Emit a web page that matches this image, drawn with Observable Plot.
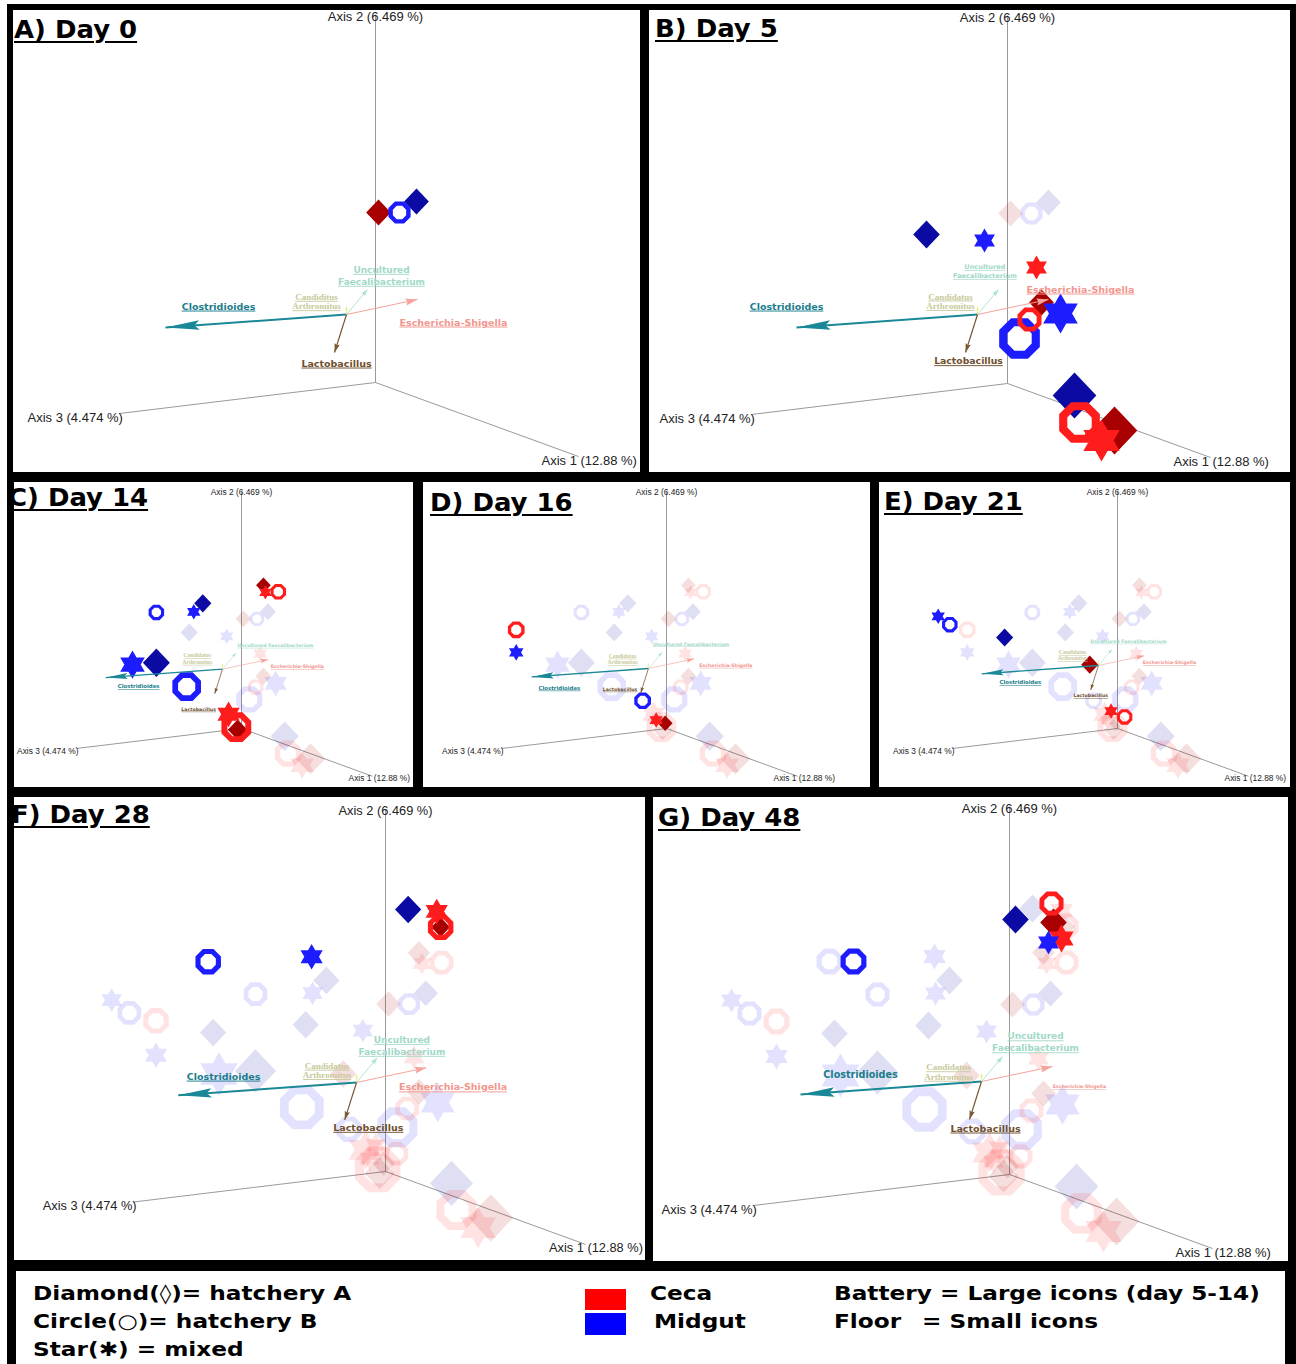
<!DOCTYPE html>
<html>
<head>
<meta charset="utf-8">
<script src="https://cdn.jsdelivr.net/npm/d3@7"></script>
<script src="https://cdn.jsdelivr.net/npm/@observablehq/plot@0.6"></script>
<style>
  html, body { margin: 0; padding: 0; background: #fff; }
  #fig { position: relative; width: 1296px; height: 1364px; overflow: hidden; background: #fff; }
  .frame { position: absolute; left: 7px; top: 4px; width: 1289px; height: 1360px; background: #000; }
  .panel { position: absolute; background: #fff; overflow: hidden; }
  .panel svg { position: absolute; left: 0; top: 0; }
  .title { position: absolute; font-family: "DejaVu Sans", Verdana, sans-serif; font-weight: bold; font-size: 24px;
           line-height: 1; white-space: nowrap; color: #000; text-decoration: underline;
           text-decoration-thickness: 2px; text-underline-offset: 3px; transform: scaleX(1.08); transform-origin: left top; }
  .legend { position: absolute; left: 16px; top: 1271px; width: 1269px; height: 93px; background: #fff; overflow: hidden; }
  .lg { position: absolute; font-family: "DejaVu Sans", Verdana, sans-serif; font-weight: bold; font-size: 19.5px;
        line-height: 1; white-space: nowrap; color: #000; transform: scaleX(1.19); transform-origin: left top; }
  .sw { position: absolute; }
  text.underlined { text-decoration: underline; }
</style>
</head>
<body>
<div id="fig"><div class="frame"></div></div>
<script>
// ---- Sampling days and panel titles ----
const days = [0, 5, 14, 16, 21, 28, 48];
const panelTitles = ["A) Day 0", "B) Day 5", "C) Day 14", "D) Day 16", "E) Day 21", "F) Day 28", "G) Day 48"];

// ---- Samples: PCoA positions projected on the view plane (u right, v up), marker radius ----
const sampleDay = [
  0, 0, 0,
  5, 5, 5, 5, 5, 5, 5, 5, 5, 5, 5,
  14, 14, 14, 14, 14, 14, 14, 14, 14, 14, 14, 14,
  16, 16, 16, 16, 16,
  21, 21, 21, 21, 21, 21,
  28, 28, 28, 28, 28, 28,
  48, 48, 48, 48, 48, 48
];
const sampleTissue = [
  "Ceca", "Midgut", "Midgut",
  "Midgut", "Midgut", "Ceca", "Ceca", "Ceca", "Midgut", "Midgut", "Midgut", "Ceca", "Ceca", "Ceca",
  "Ceca", "Ceca", "Ceca", "Midgut", "Midgut", "Midgut", "Midgut", "Midgut", "Midgut", "Ceca", "Ceca", "Ceca",
  "Ceca", "Midgut", "Midgut", "Ceca", "Ceca",
  "Midgut", "Midgut", "Midgut", "Ceca", "Ceca", "Ceca",
  "Midgut", "Ceca", "Ceca", "Ceca", "Midgut", "Midgut",
  "Ceca", "Ceca", "Midgut", "Midgut", "Ceca", "Midgut"
];
const sampleSource = [
  "hatchery A", "hatchery B", "hatchery A",
  "hatchery A", "mixed", "mixed", "hatchery A", "hatchery B", "mixed", "hatchery B", "hatchery A", "hatchery B", "hatchery A", "mixed",
  "hatchery A", "mixed", "hatchery B", "hatchery B", "mixed", "hatchery A", "mixed", "hatchery A", "hatchery B", "mixed", "hatchery B", "hatchery A",
  "hatchery B", "mixed", "hatchery B", "mixed", "hatchery A",
  "mixed", "hatchery B", "hatchery A", "hatchery A", "mixed", "hatchery B",
  "hatchery A", "mixed", "hatchery A", "hatchery B", "hatchery B", "mixed",
  "hatchery B", "hatchery A", "hatchery A", "mixed", "mixed", "hatchery B"
];
const sampleU = [
  3, 24, 41,
  -81, -23, 29, 34, 22, 53, 12, 67, 72, 107, 94,
  34, 37, 57, -132, -74, -60, -169, -132, -85, -20, -8, -6,
  -233, -233, -37, -16, -2,
  -278, -260, -175, -43, -10, 11,
  23, 52, 56, 56, -180, -75,
  42, 44, 6, 39, 52, -156
];
const sampleV = [
  170, 170, 181,
  149, 143, 116, 81, 64, 70, 45, -12, -39, -47, -57,
  222, 211, 212, 180, 181, 194, 99, 102, 65, 22, 2, -2,
  153, 118, 43, 13, 8,
  174, 161, 141, 99, 27, 18,
  266, 264, 248, 248, 213, 218,
  271, 252, 255, 232, 236, 213
];
const sampleR = [
  13, 12, 13,
  14, 12, 12, 13, 13, 20, 22, 23, 22, 24, 21,
  12, 11, 13, 13, 12, 14, 22, 22, 24, 20, 25, 16,
  14, 13, 14, 12, 12,
  12, 13, 14, 14, 12, 13,
  14, 13, 10, 14, 14, 13,
  13, 14, 14, 12, 14, 14
];

// ---- 3D axes (end points on the view plane) ----
const axisNames = ["Axis 1 (12.88 %)", "Axis 2 (6.469 %)", "Axis 3 (4.474 %)"];
const axisEndU = [203, 0, -256];
const axisEndV = [-74, 368, -31];

// ---- Biplot taxa: loading vectors on the view plane ----
const taxa = ["Clostridioides", "Escherichia-Shigella", "Uncultured Faecalibacterium", "Candidatus Arthromitus", "Lactobacillus"];
const taxonU = [-181, 71, 21, 0, -12];
const taxonV = [-13, 15, 25, 8, -38];

// ---- Styling ----
const tissueColor = { Ceca: "#ff1c1c", Midgut: "#1c1cff" };
const tissueDark = { Ceca: "#a80000", Midgut: "#0b0ba4" };
const arrowColor = ["#1a8896", "#f6a39b", "#aee3d6", "#eeee8a", "#7b5733"];
const labelColor = ["#1b7d8c", "#f2968e", "#9fd9c8", "#c9c99a", "#6f4f2d"];
const arrowWidth = [2, 1, 1, 1, 1.2];
const headLength = [34, 12, 7, 4, 9];
const headRatio = [0.14, 0.3, 0.35, 0.4, 0.3];
const axisTitleAt = [[166, -78, "start"], [0, 366, "middle"], [-348, -35, "start"]];

// label placement per panel: [u, v, font size, line height, underlined], relative to the biplot origin
const labelLayouts = {
  A: [[-128, 8, 9.5], [107, -8, 9.5], [35, 39.5, 9, 1.33], [-30, 13, 9, 1.05], [-10, -49, 9.5]],
  B: [[-191, 8, 9.5], [103, 25, 9.5], [7.4, 43.7, 6.6, 1.4], [-27, 13.3, 9, 1.05], [-9, -46.7, 9.3]],
  C: [[-130, -27, 5.4], [116, 4, 4.7], [82, 37, 4.7], [-39, 16.5, 5.6, 1.15], [-37, -62, 4.7]],
  D: [[-138, -30, 5.4], [120, 5, 4.7], [66, 38, 4.7], [-40, 15, 5.6, 1.15], [-44, -32, 4.7]],
  E: [[-121, -26, 5.4], [110, 4, 4.7], [46.5, 37.7, 4.7], [-40, 16, 5.6, 1.15], [-12, -47, 4.7]],
  F: [[-135, 6, 9.5], [98, -5, 9.5], [46, 38, 9, 1.33], [-30, 12.3, 9, 1.05], [12, -46, 9.5]],
  G: [[-121, 7, 9.6, 1, false], [98, -5, 4.7], [54, 40, 9, 1.33], [-33, 9.5, 9, 1.05], [4, -47, 9.5]]
};
const stackedNames = ["Clostridioides", "Escherichia-Shigella", "Uncultured\nFaecalibacterium", "Candidatus\nArthromitus", "Lactobacillus"];
const compactNames = ["Clostridioides", "Escherichia-Shigella", "Uncultured Faecalibacterium", "Candidatus\nArthromitus", "Lactobacillus"];

// panel boxes on the page, 3D origin inside the box, zoom factor, biplot origin
const panels = [
  { key: "A", left: 13, top: 10, w: 627, h: 462, ox: 362, oy: 372, k: 1, anchor: [-29, 68], titleAt: [1, 7.7], names: stackedNames, rename: { 3: "Candiditus\nArthromitus" } },
  { key: "B", left: 649, top: 10, w: 641, h: 462, ox: 358, oy: 373, k: 1, anchor: [-30, 69], titleAt: [6, 6.7], names: stackedNames },
  { key: "C", left: 14, top: 482, w: 399, h: 305, ox: 227, oy: 246, k: 0.645, anchor: [-29.5, 92], titleAt: [-6, 3.7], names: compactNames },
  { key: "D", left: 423, top: 482, w: 447, h: 305, ox: 243, oy: 246, k: 0.645, anchor: [-28, 93], titleAt: [7, 8.7], names: compactNames },
  { key: "E", left: 879, top: 482, w: 411, h: 305, ox: 238, oy: 246, k: 0.645, anchor: [-29.5, 97.7], titleAt: [5, 7.7], names: compactNames },
  { key: "F", left: 14, top: 797, w: 631, h: 463, ox: 371, oy: 374, k: 0.985, anchor: [-29.4, 90.4], titleAt: [-3, 5.7], names: stackedNames },
  { key: "G", left: 653, top: 797, w: 635, h: 464, ox: 356, oy: 377, k: 1, anchor: [-28, 93], titleAt: [5, 8.7], names: stackedNames }
];

// ---- Marker shapes ----
const diamondSym = { draw(ctx, size) {
  const r = Math.sqrt(size / Math.PI);
  ctx.moveTo(0, -r); ctx.lineTo(r * 0.95, 0); ctx.lineTo(0, r); ctx.lineTo(-r * 0.95, 0); ctx.closePath();
}};
const ringSym = { draw(ctx, size) {
  const r = Math.sqrt(size / Math.PI), ri = r * 0.6;
  for (let i = 0; i < 8; i++) {
    const a = (i + 0.5) * Math.PI / 4;
    i ? ctx.lineTo(r * Math.cos(a), r * Math.sin(a)) : ctx.moveTo(r * Math.cos(a), r * Math.sin(a));
  }
  ctx.closePath();
  for (let i = 8; i > 0; i--) {
    const a = (i - 0.5) * Math.PI / 4;
    i === 8 ? ctx.moveTo(ri * Math.cos(a), ri * Math.sin(a)) : ctx.lineTo(ri * Math.cos(a), ri * Math.sin(a));
  }
  ctx.closePath();
}};
const starSym = { draw(ctx, size) {
  const r = Math.sqrt(size / Math.PI), c = 0.866 * r, s = 0.5 * r;
  ctx.moveTo(0, -r); ctx.lineTo(c, s); ctx.lineTo(-c, s); ctx.closePath();
  ctx.moveTo(0, r); ctx.lineTo(-c, -s); ctx.lineTo(c, -s); ctx.closePath();
}};
const arrowHead = (ratio) => ({ draw(ctx, size) {
  const l = Math.sqrt(size / Math.PI), w = l * ratio;
  ctx.moveTo(0, 0); ctx.lineTo(w, l); ctx.lineTo(0, l * 0.85); ctx.lineTo(-w, l); ctx.closePath();
}});
const symbolOf = { "hatchery A": diamondSym, "hatchery B": ringSym, "mixed": starSym };
const sourceOrder = ["hatchery A", "hatchery B", "mixed"];

const samples = sampleDay.map((day, i) => ({
  day, tissue: sampleTissue[i], source: sampleSource[i], u: sampleU[i], v: sampleV[i], r: sampleR[i]
}));
const axes = axisNames.map((name, i) => ({ name, u: axisEndU[i], v: axisEndV[i] }));
const fillOf = d => d.source === "hatchery A" ? tissueDark[d.tissue] : tissueColor[d.tissue];

function panelPlot(p, day) {
  const k = p.k;
  const [au, av] = p.anchor;
  const layout = labelLayouts[p.key];
  const marks = [];

  // 3D axes and their titles
  marks.push(Plot.link(axes, { x1: () => 0, y1: () => 0, x2: "u", y2: "v", stroke: "#9a9a9a", strokeWidth: 1 }));
  axes.forEach((a, i) => {
    const [tu, tv, anchor] = axisTitleAt[i];
    marks.push(Plot.text([a], { x: () => tu, y: () => tv, text: "name", textAnchor: anchor,
      fontSize: 13 * k, fontFamily: "Liberation Sans, Arial, sans-serif", fill: "#222" }));
  });

  // earlier days faded, current day solid
  const layers = [
    { data: samples.filter(d => d.day < day), opacity: 0.13 },
    { data: samples.filter(d => d.day === day), opacity: 1 }
  ];
  for (const layer of layers) {
    for (const src of sourceOrder) {
      marks.push(Plot.dot(layer.data.filter(d => d.source === src), {
        x: "u", y: "v", r: "r", symbol: symbolOf[src], fill: fillOf, fillOpacity: layer.opacity, stroke: "none"
      }));
    }
  }

  // biplot arrows
  taxa.forEach((t, i) => {
    const tipU = au + taxonU[i], tipV = av + taxonV[i];
    marks.push(Plot.link([t], { x1: () => au, y1: () => av, x2: () => tipU, y2: () => tipV,
      stroke: arrowColor[i], strokeWidth: arrowWidth[i] * k }));
    marks.push(Plot.dot([t], { x: () => tipU, y: () => tipV, r: headLength[i] * k, symbol: arrowHead(headRatio[i]),
      rotate: Math.atan2(taxonU[i], taxonV[i]) * 180 / Math.PI, fill: arrowColor[i], stroke: "none" }));
  });

  // biplot labels
  taxa.forEach((t, i) => {
    const [lu, lv, fs, lh, ul] = layout[i];
    const name = (p.rename && p.rename[i]) || p.names[i];
    marks.push(Plot.text([name], {
      x: () => au + lu, y: () => av + lv, text: d => d, fontSize: fs, lineHeight: lh || 1,
      fontFamily: i === 3 ? "Liberation Serif, serif" : "DejaVu Sans, Verdana, sans-serif", fontWeight: "bold",
      fill: labelColor[i], textAnchor: "middle", lineAnchor: "middle",
      ariaLabel: () => (ul === false ? "taxon plain" : "taxon underlined")
    }));
  });

  const svg = Plot.plot({
    width: p.w, height: p.h, margin: 0, inset: 0,
    x: { domain: [-p.ox / k, (p.w - p.ox) / k], range: [0, p.w], axis: null },
    y: { domain: [-(p.h - p.oy) / k, p.oy / k], range: [p.h, 0], axis: null },
    r: { type: "linear", domain: [0, 100], range: [0, 100 * k] },
    color: { type: "identity" },
    style: { background: "transparent", overflow: "visible" },
    marks
  });
  // underline the taxon names
  svg.querySelectorAll('[aria-label="taxon underlined"]').forEach(el => {
    const targets = el.tagName.toLowerCase() === "text" ? [el] : Array.from(el.querySelectorAll("text"));
    targets.forEach(t => { t.classList.add("underlined"); t.setAttribute("text-decoration", "underline"); });
  });
  return svg;
}

const fig = document.getElementById("fig");
panels.forEach((p, i) => {
  const div = document.createElement("div");
  div.className = "panel";
  Object.assign(div.style, { left: p.left + "px", top: p.top + "px", width: p.w + "px", height: p.h + "px" });
  div.appendChild(panelPlot(p, days[i]));
  const title = document.createElement("div");
  title.className = "title";
  title.textContent = panelTitles[i];
  title.style.left = p.titleAt[0] + "px";
  title.style.top = p.titleAt[1] + "px";
  div.appendChild(title);
  fig.appendChild(div);
});

// ---- Legend ----
const legendLines = [
  ["Diamond(\u25CA)= hatchery A", 17, 12.5],
  ["Circle(\u25CB)= hatchery B", 17, 40.5],
  ["Star(\u2731) = mixed", 17, 68.5],
  ["Ceca", 634, 12.5],
  ["Midgut", 638, 40.5],
  ["Battery = Large icons (day 5-14)", 818, 12.5],
  ["Floor", 818, 40.5],
  ["= Small icons", 906, 40.5]
];
const legendSwatches = [["Ceca", 569, 18, 41, 21], ["Midgut", 569, 42, 41, 22]];
const legend = document.createElement("div");
legend.className = "legend";
legendSwatches.forEach(([tissue, x, y, w, h]) => {
  const s = document.createElement("div");
  s.className = "sw";
  Object.assign(s.style, { left: x + "px", top: y + "px", width: w + "px", height: h + "px", background: tissue === "Ceca" ? "#ff0000" : "#0000ff" });
  legend.appendChild(s);
});
legendLines.forEach(([text, x, y]) => {
  const t = document.createElement("div");
  t.className = "lg";
  t.textContent = text;
  t.style.left = x + "px";
  t.style.top = y + "px";
  legend.appendChild(t);
});
fig.appendChild(legend);
</script>
</body>
</html>
